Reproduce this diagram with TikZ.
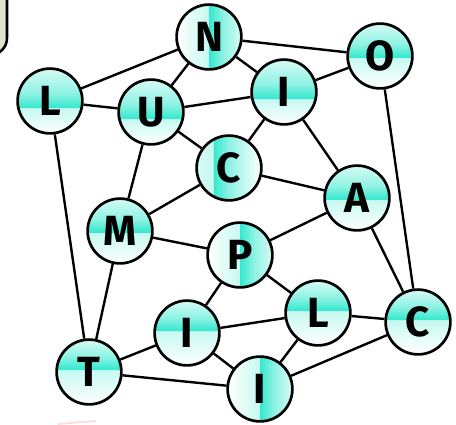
\documentclass[tikz,border=0pt]{standalone}
\usepackage{fontspec}
\setmainfont{Fira Sans}
\usetikzlibrary{positioning}
\definecolor{tq}{RGB}{30,230,200}
\definecolor{boxfill}{RGB}{222,228,205}
% glossy button shadings (sharp edge at different heights)
\pgfdeclareverticalshading{glosslow}{100bp}{color(0bp)=(white); color(25bp)=(white); color(44.5bp)=(tq!25); color(45bp)=(tq!90); color(56bp)=(tq!50); color(75bp)=(tq!18); color(100bp)=(tq!18)}
\pgfdeclareverticalshading{glossmid}{100bp}{color(0bp)=(white); color(25bp)=(white); color(48.5bp)=(tq!25); color(49bp)=(tq!90); color(59bp)=(tq!50); color(75bp)=(tq!18); color(100bp)=(tq!18)}
\pgfdeclareverticalshading{glosshigh}{100bp}{color(0bp)=(white); color(25bp)=(white); color(51.5bp)=(tq!25); color(52bp)=(tq!90); color(62bp)=(tq!50); color(75bp)=(tq!18); color(100bp)=(tq!18)}
\pgfdeclarehorizontalshading{glossh}{100bp}{color(0bp)=(white); color(25bp)=(white); color(49.5bp)=(tq!25); color(50bp)=(tq!90); color(61bp)=(tq!50); color(75bp)=(tq!18); color(100bp)=(tq!18)}
\pgfdeclarehorizontalshading{glosshl}{100bp}{color(0bp)=(white); color(25bp)=(tq!18); color(37.5bp)=(tq!25); color(38bp)=(tq!90); color(50bp)=(tq!50); color(75bp)=(white); color(100bp)=(white)}
\begin{document}
\begin{tikzpicture}[
    x=0.025cm, y=-0.025cm,
    letter/.style={circle, draw, line width=1.9pt, minimum size=1.62cm, inner sep=0pt,
      font=\fontsize{30}{32}\selectfont\bfseries, shading=glossmid},
    link/.style={line width=1.7pt},
  ]
    \useasboundingbox (0,0) rectangle (456,425);
    % corner of a box left of the picture
    \draw[line width=1.8pt, fill=boxfill, rounded corners=12pt] (-40,-40) rectangle (7,55);
    \draw[red!15, line width=1.2pt] (58,424) -- (96,421);
    \node[letter, shading=glossh] (nN) at (209,37) {N};
    \node[letter] (nO) at (380,56) {O};
    \node[letter, shading=glosslow] (nL) at (50,101) {L};
    \node[letter, shading=glosslow] (nU) at (151,112) {U};
    \node[letter, shading=glosslow] (nIa) at (284,92) {I};
    \node[letter, shading=glosshl] (nCa) at (229,168) {C};
    \node[letter] (nA) at (357,198) {A};
    \node[letter] (nM) at (120,231) {M};
    \node[letter, shading=glossh] (nP) at (240,255) {P};
    \node[letter, shading=glosshigh] (nLb) at (318,313) {L};
    \node[letter, shading=glosshigh] (nIb) at (187,333) {I};
    \node[letter, shading=glosshigh] (nCb) at (418,322) {C};
    \node[letter, shading=glosshigh] (nT) at (89,372) {T};
    \node[letter, shading=glossh] (nIc) at (260,389) {I};
    \draw[link] (nN) -- (nL);
    \draw[link] (nN) -- (nO);
    \draw[link] (nN) -- (nU);
    \draw[link] (nN) -- (nIa);
    \draw[link] (nL) -- (nU);
    \draw[link] (nL) -- (nT);
    \draw[link] (nU) -- (nIa);
    \draw[link] (nU) -- (nM);
    \draw[link] (nU) -- (nCa);
    \draw[link] (nIa) -- (nO);
    \draw[link] (nIa) -- (nCa);
    \draw[link] (nIa) -- (nA);
    \draw[link] (nO) -- (nCb);
    \draw[link] (nCa) -- (nM);
    \draw[link] (nCa) -- (nA);
    \draw[link] (nA) -- (nP);
    \draw[link] (nA) -- (nCb);
    \draw[link] (nM) -- (nP);
    \draw[link] (nM) -- (nT);
    \draw[link] (nP) -- (nIb);
    \draw[link] (nP) -- (nLb);
    \draw[link] (nIb) -- (nT);
    \draw[link] (nIb) -- (nLb);
    \draw[link] (nIb) -- (nIc);
    \draw[link] (nLb) -- (nIc);
    \draw[link] (nLb) -- (nCb);
    \draw[link] (nT) -- (nIc);
    \draw[link] (nIc) -- (nCb);
  \end{tikzpicture}
\end{document}
